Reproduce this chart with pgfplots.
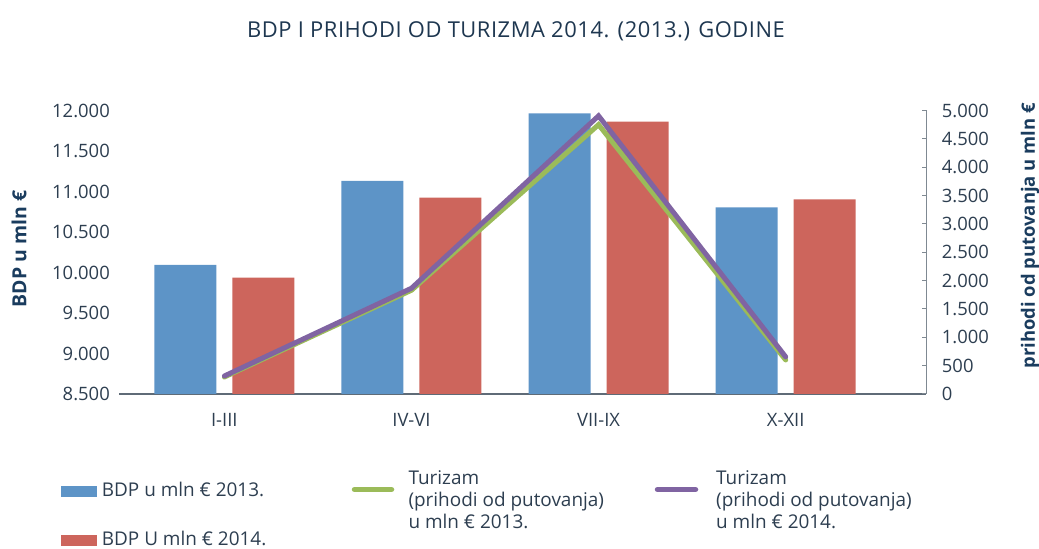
\documentclass[border=0pt]{standalone}
\usepackage{pgfplots}
\pgfplotsset{compat=1.18}
\usepackage{pgfplotstable}
\usepackage{fontspec}
\setmainfont{Open Sans}
\newfontfamily\titlefont[LetterSpace=2.5]{Open Sans}
\definecolor{barblue}{RGB}{93,148,199}
\definecolor{barred}{RGB}{205,101,92}
\definecolor{lgreen}{RGB}{155,187,89}
\definecolor{lpurple}{RGB}{128,100,162}
\definecolor{txt}{RGB}{45,62,80}
\definecolor{navy}{RGB}{26,60,94}
\definecolor{titlec}{RGB}{30,55,80}
\definecolor{axisgray}{RGB}{95,107,119}
\pgfplotsset{/pgf/number format/1000 sep={.}, /pgf/number format/assume math mode=true}

\pgfplotstableread{
x bdp13 bdp14
0 10093 9936
1 11130 10923
2 11965 11862
3 10805 10904
}\bdp
\pgfplotstableread{
x t13 t14
0 300 317
1 1830 1865
2 4750 4905
3 600 655
}\tur

\newcommand\tickfont{\fontsize{18.5}{22}\selectfont}
\newcommand\legfont{\fontsize{19}{22}\selectfont}

\begin{document}
\begin{tikzpicture}[x=1bp,y=1bp]
\path[use as bounding box] (0,0) rectangle (1039,549);
\begin{axis}[
  at={(119bp,155bp)}, anchor=south west,
  scale only axis, width=807bp, height=283.5bp,
  xmin=-0.563, xmax=3.750,
  ymin=8500, ymax=12000,
  ytick={8500,9000,...,12000},
  scaled y ticks=false,
  xtick={0,1,2,3}, xticklabels={I-III,IV-VI,VII-IX,X-XII},
  axis x line*=bottom, axis y line*=left,
  y axis line style={draw=none},
  x axis line style={draw=axisgray, line width=1.2bp, -},
  major tick length=0pt,
  tick style={draw=none},
  yticklabel style={anchor=east, inner sep=0pt, xshift=-9bp, font=\tickfont, text=txt},
  xticklabel style={anchor=base, inner sep=0pt, yshift=-32.5bp, font=\tickfont, text=txt},
  ylabel={BDP u mln €},
  ylabel style={at={(axis description cs:-0.1239,0.5115)}, anchor=center, font=\fontsize{19.5}{22}\selectfont\bfseries, text=navy},
]
\addplot[ybar, bar width=62bp, bar shift=-39bp, fill=barblue, draw=none] table[x=x,y=bdp13]{\bdp};
\addplot[ybar, bar width=62bp, bar shift=39bp, fill=barred, draw=none] table[x=x,y=bdp14]{\bdp};
\end{axis}
\begin{axis}[
  at={(119bp,155bp)}, anchor=south west,
  scale only axis, width=807bp, height=283.5bp,
  xmin=-0.563, xmax=3.750,
  ymin=0, ymax=5000,
  ytick={0,500,...,5000},
  scaled y ticks=false,
  axis y line*=right, axis x line=none,
  y axis line style={draw=axisgray!80, line width=1bp, -},
  ytick style={draw=axisgray!80, line width=1bp},
  major tick length=4bp,
  yticklabel style={anchor=west, inner sep=0pt, xshift=15.7bp, font=\tickfont, text=txt},
  ylabel={prihodi od putovanja u mln €},
  ylabel style={at={(axis description cs:1.1289,0.558)}, anchor=center, font=\fontsize{18.5}{22}\selectfont\bfseries, text=navy},
]
\addplot[lgreen, line width=5bp, line cap=round] table[x=x,y=t13]{\tur};
\addplot[lpurple, line width=5bp, line cap=round] table[x=x,y=t14]{\tur};
\end{axis}
% title
\node[anchor=base, inner sep=0pt, font=\titlefont\fontsize{22}{26}\selectfont, text=titlec] at (516,511) {BDP I PRIHODI OD TURIZMA 2014. (2013.) GODINE};
% legend
\fill[barblue] (61,52) rectangle (97,63);
\node[anchor=base west, inner sep=0pt, font=\legfont, text=txt] at (101.7,52.3) {BDP u mln € 2013.};
\fill[barred] (61,2.5) rectangle (97,13.5);
\node[anchor=base west, inner sep=0pt, font=\legfont, text=txt] at (101.7,3) {BDP U mln € 2014.};
\draw[lgreen, line width=5.5bp, line cap=round] (354.5,59.5) -- (391.5,59.5);
\node[anchor=base west, inner sep=0pt, font=\legfont, text=txt] at (408.3,64) {Turizam};
\node[anchor=base west, inner sep=0pt, font=\legfont, text=txt] at (408.3,42) {(prihodi od putovanja)};
\node[anchor=base west, inner sep=0pt, font=\legfont, text=txt] at (408.3,20) {u mln € 2013.};
\draw[lpurple, line width=5.5bp, line cap=round] (657.5,59.5) -- (695.5,59.5);
\node[anchor=base west, inner sep=0pt, font=\legfont, text=txt] at (716,64) {Turizam};
\node[anchor=base west, inner sep=0pt, font=\legfont, text=txt] at (716,42) {(prihodi od putovanja)};
\node[anchor=base west, inner sep=0pt, font=\legfont, text=txt] at (716,20) {u mln € 2014.};
\end{tikzpicture}
\end{document}
